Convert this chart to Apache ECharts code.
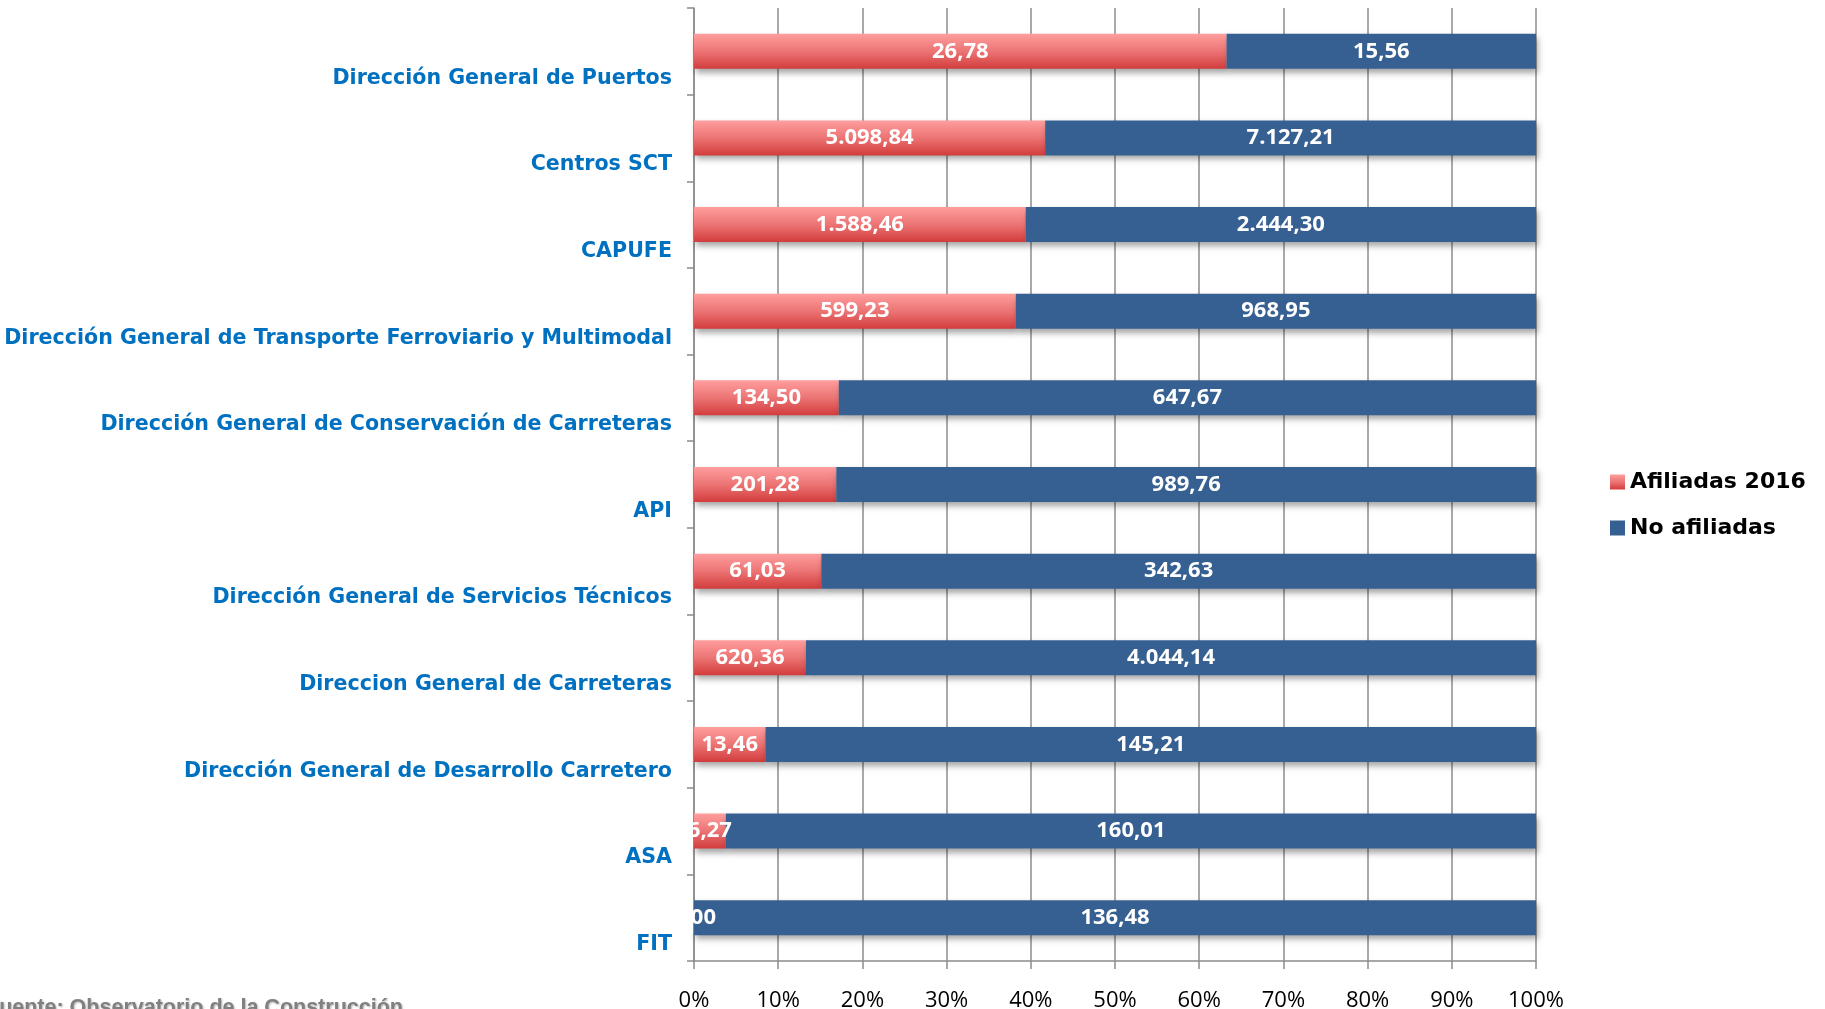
<!DOCTYPE html>
<html>
<head>
<meta charset="utf-8">
<script src="https://cdn.jsdelivr.net/npm/echarts@6/dist/echarts.min.js"></script>
<style>
  html, body { margin: 0; padding: 0; background: #fff; }
  #chart { width: 1825px; height: 1009px; }
</style>
</head>
<body>
<div id="chart"></div>
<script>
// categories, top to bottom
const categories = [
  'Dirección General de Puertos',
  'Centros SCT',
  'CAPUFE',
  'Dirección General de Transporte Ferroviario y Multimodal',
  'Dirección General de Conservación de Carreteras',
  'API',
  'Dirección General de Servicios Técnicos',
  'Direccion General de Carreteras',
  'Dirección General de Desarrollo Carretero',
  'ASA',
  'FIT'
]
const afiliadas = [26.78, 5098.84, 1588.46, 599.23, 134.50, 201.28, 61.03, 620.36, 13.46, 6.27, 0]
const noAfiliadas = [15.56, 7127.21, 2444.30, 968.95, 647.67, 989.76, 342.63, 4044.14, 145.21, 160.01, 136.48]
const xTickLabels = ['0%', '10%', '20%', '30%', '40%', '50%', '60%', '70%', '80%', '90%', '100%']

// 1.234,56 style
function fmt(v) {
  const parts = v.toFixed(2).split('.')
  return parts[0].replace(/\B(?=(\d{3})+(?!\d))/g, '.') + ',' + parts[1]
}

function toPct(arr) {
  return arr.map((v, i) => {
    const total = afiliadas[i] + noAfiliadas[i]
    return { value: v / total * 100, raw: v }
  })
}

const gridColor = '#8c8c8c'
const gothic = '"DejaVu Sans", Lato, sans-serif'
const barShadow = {
  shadowColor: 'rgba(0,0,0,0.35)',
  shadowBlur: 6,
  shadowOffsetX: 2,
  shadowOffsetY: 4
}
const dataLabel = {
  show: true,
  position: 'inside',
  color: '#fff',
  fontFamily: '"Open Sans", sans-serif',
  fontWeight: 'bold',
  fontSize: 22,
  formatter: p => fmt(p.data.raw)
}

const chart = echarts.init(document.getElementById('chart'))

chart.setOption({
  animation: false,
  grid: {
    left: 694,
    right: 289,
    top: 8,
    bottom: 48,
    containLabel: false,
    outerBoundsMode: 'none'
  },
  legend: {
    orient: 'vertical',
    left: 1605,
    top: 466,
    itemWidth: 15,
    itemHeight: 15,
    itemGap: 24,
    icon: 'rect',
    textStyle: {
      fontFamily: gothic,
      fontWeight: 'bold',
      fontSize: 22,
      color: '#000'
    },
    data: ['Afiliadas 2016', 'No afiliadas']
  },
  xAxis: {
    type: 'value',
    min: 0,
    max: 100,
    interval: 10,
    axisLine: { show: true, lineStyle: { color: gridColor, width: 1.5 } },
    axisTick: { show: true, length: 8, lineStyle: { color: gridColor, width: 1.5 } },
    splitLine: { show: true, lineStyle: { color: gridColor, width: 1.5 } },
    axisLabel: {
      margin: 29,
      color: '#000',
      fontFamily: '"Open Sans", sans-serif',
      fontSize: 22,
      formatter: v => xTickLabels[Math.round(v / 10)]
    }
  },
  yAxis: {
    type: 'category',
    inverse: true,
    data: categories,
    axisLine: { show: true, lineStyle: { color: gridColor, width: 1.5 } },
    axisTick: { show: true, length: 7, lineStyle: { color: gridColor, width: 1.5 } },
    splitLine: { show: false },
    axisLabel: {
      margin: 22,
      // empty first line pushes the name below the bar
      formatter: v => '{g| }\n{t|' + v + '}',
      rich: {
        g: { fontSize: 1, lineHeight: 54 },
        t: {
          color: '#0070C0',
          fontFamily: gothic,
          fontWeight: 'bold',
          fontSize: 20.6,
          lineHeight: 26
        }
      }
    }
  },
  graphic: [
    {
      type: 'text',
      left: -14,
      top: 997,
      style: {
        text: 'Fuente: Observatorio de la Construcción',
        fill: '#808080',
        font: 'bold 21.5px "Liberation Sans", Arial, sans-serif',
        textShadowColor: 'rgba(0,0,0,0.3)',
        textShadowBlur: 2,
        textShadowOffsetX: 1,
        textShadowOffsetY: 1
      }
    }
  ],
  series: [
    {
      name: 'Afiliadas 2016',
      type: 'bar',
      stack: 'total',
      barWidth: 35,
      itemStyle: Object.assign({
        color: new echarts.graphic.LinearGradient(0, 0, 0, 1, [
          { offset: 0, color: '#ff9e9e' },
          { offset: 0.5, color: '#ec7474' },
          { offset: 1, color: '#d23c3c' }
        ])
      }, barShadow),
      label: dataLabel,
      data: toPct(afiliadas)
    },
    {
      name: 'No afiliadas',
      type: 'bar',
      stack: 'total',
      barWidth: 35,
      itemStyle: Object.assign({ color: '#376092' }, barShadow),
      label: dataLabel,
      data: toPct(noAfiliadas)
    }
  ]
})

// the original clips data labels at the plot edge (ASA, FIT rows)
const x0 = chart.convertToPixel({ xAxisIndex: 0 }, 0)
const masks = ['ASA', 'FIT'].map(name => {
  const y = chart.convertToPixel({ yAxisIndex: 0 }, name)
  return {
    type: 'rect',
    z: 100,
    shape: { x: x0 - 60, y: y - 16, width: 59, height: 32 },
    style: { fill: '#fff' }
  }
})
chart.setOption({ graphic: chart.getOption().graphic[0].elements.concat(masks) })
</script>
</body>
</html>
